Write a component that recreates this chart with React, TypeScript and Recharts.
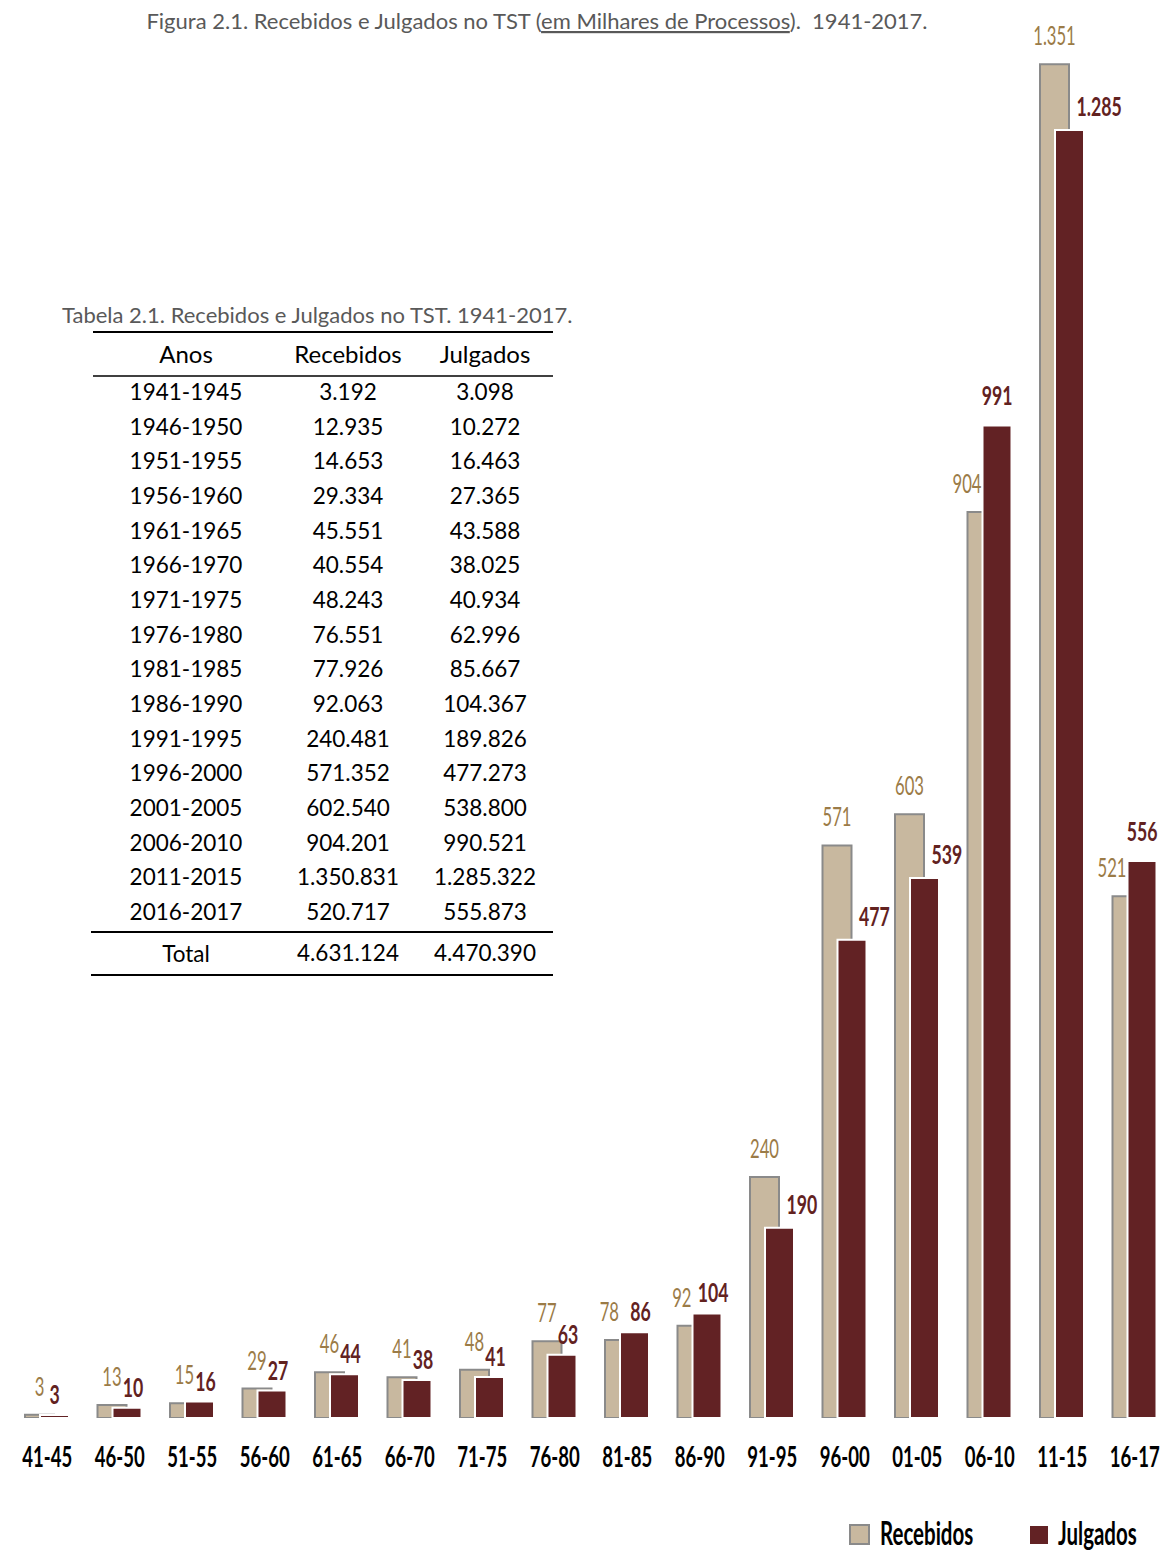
import React from 'react';
import { BarChart, Bar, XAxis, YAxis } from 'recharts';

const categories = ['41-45', '46-50', '51-55', '56-60', '61-65', '66-70', '71-75', '76-80', '81-85', '86-90', '91-95', '96-00', '01-05', '06-10', '11-15', '16-17'];
const periods = ['1941-1945', '1946-1950', '1951-1955', '1956-1960', '1961-1965', '1966-1970', '1971-1975', '1976-1980', '1981-1985', '1986-1990', '1991-1995', '1996-2000', '2001-2005', '2006-2010', '2011-2015', '2016-2017'];
const recebidos = [3192, 12935, 14653, 29334, 45551, 40554, 48243, 76551, 77926, 92063, 240481, 571352, 602540, 904201, 1350831, 520717];
const julgados = [3098, 10272, 16463, 27365, 43588, 38025, 40934, 62996, 85667, 104367, 189826, 477273, 538800, 990521, 1285322, 555873];
const edgeTicks = [0, 1, 2, 3, 4, 5, 6, 7, 8, 9, 10, 11, 12, 13, 14, 15, 16];

const REC_FILL = '#c8b89f';
const REC_STROKE = '#8a8a8a';
const JUL_FILL = '#622224';
const REC_TEXT = '#9b7b47';
const JUL_TEXT = '#62221f';
const FONT = 'Lato, "Noto Sans", sans-serif';

const data = categories.map((c, i) => ({ cat: c, rec: recebidos[i] / 1000, jul: julgados[i] / 1000 }));

const dots = (n: number) => {
  const s = String(Math.round(n));
  return s.replace(/\B(?=(\d{3})+(?!\d))/g, '.');
};

const CondText = ({ x, y, anchor, fill, weight, size, sx, children }: any) => (
  <text
    transform={`translate(${x},${y}) scale(${sx},1)`}
    textAnchor={anchor}
    fill={fill}
    fontWeight={weight}
    fontSize={size}
    fontFamily={FONT}
  >
    {children}
  </text>
);

const RecLabel = (props: any) => {
  const { x, y, width, index } = props;
  const r = recebidos[index] / 1000;
  const j = julgados[index] / 1000;
  let tx = x + width / 2;
  let anchor = 'middle';
  if (j - r > 5) {
    tx = x + width - 15;
    anchor = 'end';
  }
  return (
    <CondText x={tx} y={y - 19} anchor={anchor} fill={REC_TEXT} weight={400} size={26} sx={0.64}>
      {dots(r)}
    </CondText>
  );
};

const JulLabel = (props: any) => {
  const { x, y, width, index } = props;
  const r = recebidos[index] / 1000;
  const j = julgados[index] / 1000;
  const c = x + width / 2;
  let tx = c + 6;
  let anchor = 'middle';
  let dy = 11;
  if (r - j > 20) {
    tx = c + 7;
    anchor = 'start';
    dy = 14;
  } else if (j - r > 30) {
    tx = c;
    dy = 20;
  }
  if (index === 0) tx = c;
  return (
    <CondText x={tx} y={y - dy} anchor={anchor} fill={JUL_TEXT} weight={700} size={26} sx={0.68}>
      {dots(j)}
    </CondText>
  );
};

const CatTick = (props: any) => {
  const { x, y, payload } = props;
  return (
    <CondText x={x} y={y + 49} anchor="middle" fill="#000" weight={700} size={29} sx={0.64}>
      {payload.value}
    </CondText>
  );
};

const Overlay = () => {
  const rowY = (i: number) => 392 + i * 34.67 + 8;
  const col = [186, 348, 485];
  const totRec = recebidos.reduce((a, b) => a + b, 0);
  const totJul = julgados.reduce((a, b) => a + b, 0);
  return (
    <svg width={1165} height={1553} style={{ position: 'absolute', left: 0, top: 0, pointerEvents: 'none' }}>
      <text x={537} y={29} textAnchor="middle" fontFamily={FONT} fontSize={22} fill="#595959" style={{ whiteSpace: 'pre' }}>
        {'Figura 2.1. Recebidos e Julgados no TST ('}
        <tspan textDecoration="underline" style={{ textDecoration: 'underline' }}>em Milhares de Processos</tspan>
        {').  1941-2017.'}
      </text>
      <text x={62} y={323} fontFamily={FONT} fontSize={22} fill="#595959">
        Tabela 2.1. Recebidos e Julgados no TST. 1941-2017.
      </text>
      <line x1={93} x2={553} y1={332} y2={332} stroke="#000" strokeWidth={2} />
      <g fontFamily={FONT} fontSize={24} fill="#000" textAnchor="middle">
        <text x={col[0]} y={363}>Anos</text>
        <text x={col[1]} y={363}>Recebidos</text>
        <text x={col[2]} y={363}>Julgados</text>
      </g>
      <line x1={93} x2={553} y1={376} y2={376} stroke="#000" strokeWidth={1.5} />
      <g fontFamily={FONT} fontSize={22.5} fill="#000" textAnchor="middle">
        {periods.map((p, i) => (
          <g key={p}>
            <text x={col[0]} y={rowY(i)}>{p}</text>
            <text x={col[1]} y={rowY(i)}>{dots(recebidos[i])}</text>
            <text x={col[2]} y={rowY(i)}>{dots(julgados[i])}</text>
          </g>
        ))}
        <text x={col[0]} y={962}>Total</text>
        <text x={col[1]} y={961}>{dots(totRec)}</text>
        <text x={col[2]} y={961}>{dots(totJul)}</text>
      </g>
      <line x1={91} x2={553} y1={932} y2={932} stroke="#000" strokeWidth={2} />
      <line x1={91} x2={553} y1={975} y2={975} stroke="#000" strokeWidth={2} />
      <rect x={850} y={1525} width={19} height={19} fill={REC_FILL} stroke={REC_STROKE} strokeWidth={2} />
      <CondText x={880} y={1545} anchor="start" fill="#000" weight={700} size={32} sx={0.64}>Recebidos</CondText>
      <rect x={1030} y={1526} width={18} height={18} fill={JUL_FILL} />
      <CondText x={1058} y={1545} anchor="start" fill="#000" weight={700} size={32} sx={0.64}>Julgados</CondText>
    </svg>
  );
};

export default function App() {
  return (
    <div style={{ position: 'absolute', left: 0, top: 0, width: 1165, height: 1553, overflow: 'hidden', background: '#fff' }}>
      <BarChart
        width={1172}
        height={1553}
        data={data}
        margin={{ top: 0, right: 1, bottom: 0, left: 11 }}
        barSize={29}
        barGap={-14}
      >
        <XAxis
          xAxisId="edge"
          type="number"
          domain={[0, 16]}
          ticks={edgeTicks}
          interval={0}
          height={0}
          tick={false}
          tickSize={9}
          axisLine={{ stroke: '#8c8c8c', strokeWidth: 2 }}
          tickLine={{ stroke: '#8c8c8c', strokeWidth: 2 }}
        />
        <XAxis
          xAxisId="cat"
          dataKey="cat"
          height={135}
          axisLine={false}
          tickLine={false}
          tickSize={0}
          tickMargin={0}
          interval={0}
          tick={<CatTick />}
        />
        <YAxis hide domain={[0, 1415]} allowDataOverflow />
        <Bar
          xAxisId="cat"
          dataKey="rec"
          fill={REC_FILL}
          stroke={REC_STROKE}
          strokeWidth={2}
          isAnimationActive={false}
          label={(p: any) => <RecLabel {...p} />}
        />
        <Bar
          xAxisId="cat"
          dataKey="jul"
          fill={JUL_FILL}
          stroke="#ffffff"
          strokeWidth={2}
          isAnimationActive={false}
          label={(p: any) => <JulLabel {...p} />}
        />
      </BarChart>
      <Overlay />
    </div>
  );
}
